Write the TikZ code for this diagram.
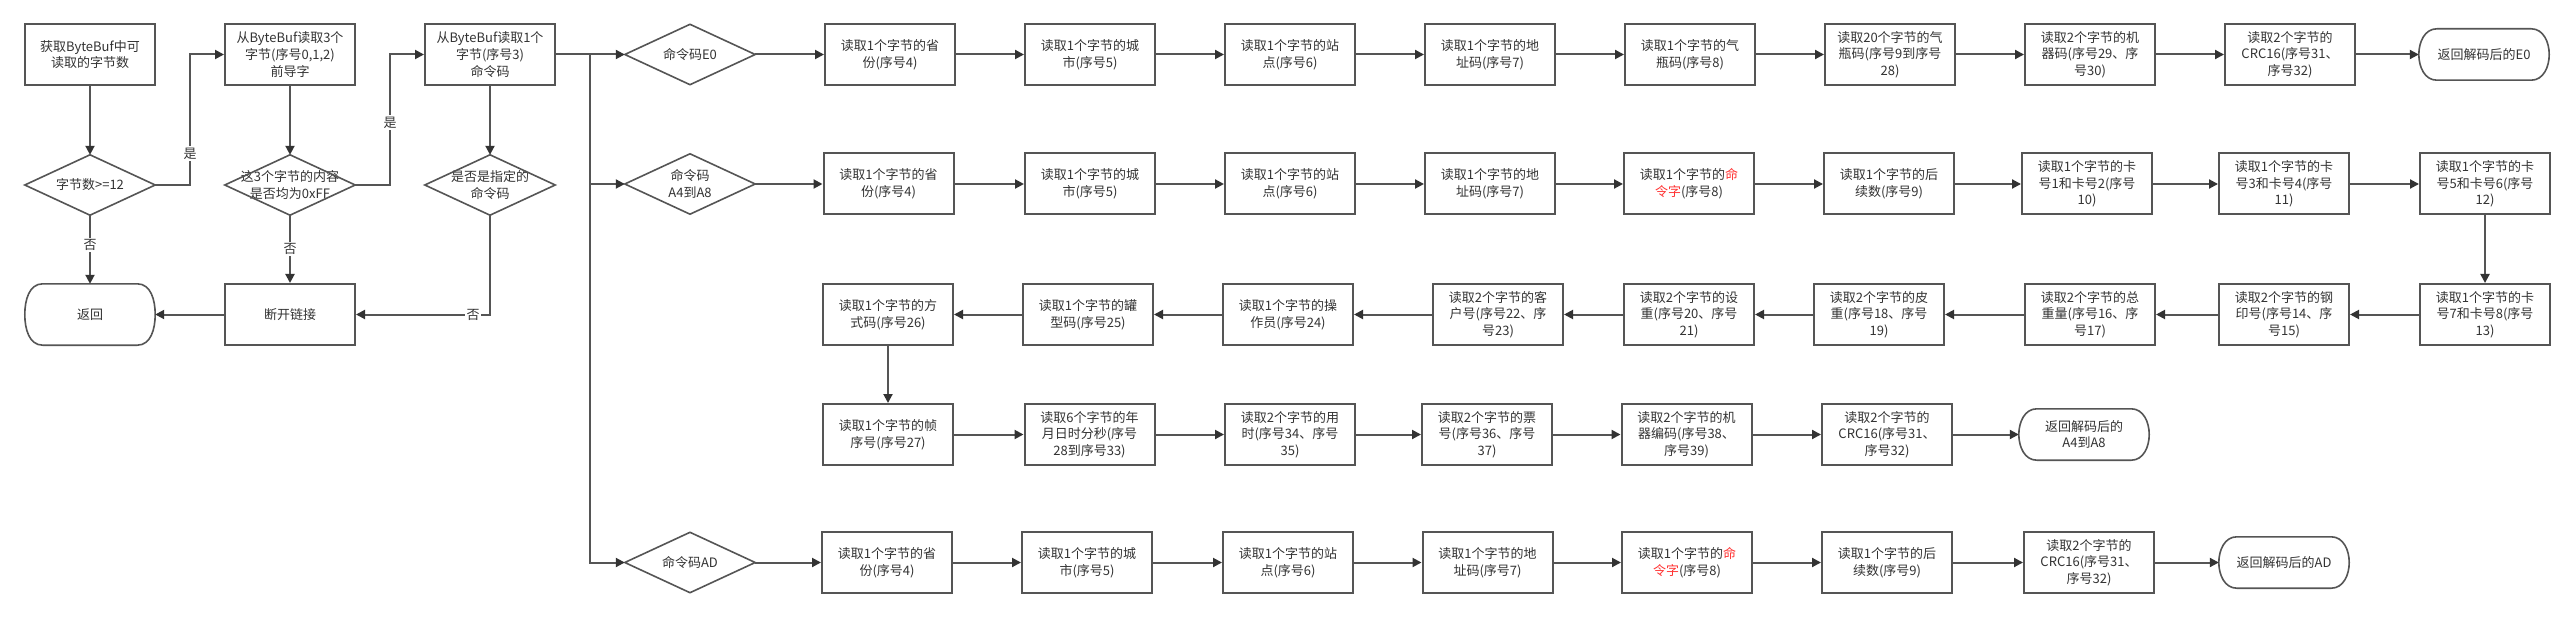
\documentclass[tikz,border=0pt]{standalone}
\usepackage{fontspec}
\setmainfont{Noto Sans CJK SC}
\usetikzlibrary{arrows.meta}
\definecolor{linec}{HTML}{555555}
\definecolor{arrc}{HTML}{333333}
\definecolor{txtc}{HTML}{333333}
\definecolor{redc}{HTML}{FF3333}
\begin{document}
\begin{tikzpicture}[x=1pt,y=-1pt,
  every node/.style={font=\fontsize{13}{16.7}\selectfont, text=txtc, align=center, inner sep=0pt},
  procbox/.style={draw=linec, line width=2pt, minimum width=130pt, minimum height=61pt, fill=white},
  decbox/.style={minimum width=130pt, minimum height=60pt},
  termbox/.style={minimum width=130pt, minimum height=51pt},
  shapeline/.style={draw=linec, line width=1.6pt},
  arr/.style={draw=linec, line width=2pt, -{Triangle[length=9pt,width=9pt,color=arrc]}},
  lbl/.style={fill=white, inner sep=1.5pt}
]
\useasboundingbox (0,0) rectangle (2574,620);
\fill[white] (0,0) rectangle (2574,620);

% left part
\node[procbox] (box1) at (90,54.5) {获取ByteBuf中可\\读取的字节数};
\node[decbox] (d1) at (90,185) {字节数>=12};
\node[termbox, minimum height=61pt] (ret) at (90,314.5) {返回};
\node[procbox] (box2) at (290,54.5) {从ByteBuf读取3个\\字节(序号0,1,2)\\前导字};
\node[decbox] (d2) at (290,185) {这3个字节的内容\\是否均为0xFF};
\node[procbox] (disc) at (290,314.5) {断开链接};
\node[procbox] (box3) at (490,54.5) {从ByteBuf读取1个\\字节(序号3)\\命令码};
\node[decbox] (d3) at (490,185) {是否是指定的\\命令码};

% E0 row
\node[decbox] (dE0) at (690,54.5) {命令码E0};
\node[procbox] (e1) at (890,54.5) {读取1个字节的省\\份(序号4)};
\node[procbox] (e2) at (1090,54.5) {读取1个字节的城\\市(序号5)};
\node[procbox] (e3) at (1290,54.5) {读取1个字节的站\\点(序号6)};
\node[procbox] (e4) at (1490,54.5) {读取1个字节的地\\址码(序号7)};
\node[procbox] (e5) at (1690,54.5) {读取1个字节的气\\瓶码(序号8)};
\node[procbox] (e6) at (1890,54.5) {读取20个字节的气\\瓶码(序号9到序号\\28)};
\node[procbox] (e7) at (2090,54.5) {读取2个字节的机\\器码(序号29、序\\号30)};
\node[procbox] (e8) at (2290,54.5) {读取2个字节的\\CRC16(序号31、\\序号32)};
\node[termbox] (tE0) at (2484,54.5) {返回解码后的E0};

% A4-A8 row
\node[decbox] (dA4) at (690,184) {命令码\\A4到A8};
\node[procbox] (a1) at (888.5,184) {读取1个字节的省\\份(序号4)};
\node[procbox] (a2) at (1090,184) {读取1个字节的城\\市(序号5)};
\node[procbox] (a3) at (1290,184) {读取1个字节的站\\点(序号6)};
\node[procbox] (a4) at (1490,184) {读取1个字节的地\\址码(序号7)};
\node[procbox] (a5) at (1689,184) {读取1个字节的\textcolor{redc}{命}\\\textcolor{redc}{令字}(序号8)};
\node[procbox] (a6) at (1889,184) {读取1个字节的后\\续数(序号9)};
\node[procbox] (a7) at (2087,184) {读取1个字节的卡\\号1和卡号2(序号\\10)};
\node[procbox] (a8) at (2284,184) {读取1个字节的卡\\号3和卡号4(序号\\11)};
\node[procbox] (a9) at (2485,184) {读取1个字节的卡\\号5和卡号6(序号\\12)};

% third row (right to left)
\node[procbox] (b1) at (2485,314.5) {读取1个字节的卡\\号7和卡号8(序号\\13)};
\node[procbox] (b2) at (2284,314.5) {读取2个字节的钢\\印号(序号14、序\\号15)};
\node[procbox] (b3) at (2090,314.5) {读取2个字节的总\\重量(序号16、序\\号17)};
\node[procbox] (b4) at (1879,314.5) {读取2个字节的皮\\重(序号18、序号\\19)};
\node[procbox] (b5) at (1689,314.5) {读取2个字节的设\\重(序号20、序号\\21)};
\node[procbox] (b6) at (1498,314.5) {读取2个字节的客\\户号(序号22、序\\号23)};
\node[procbox] (b7) at (1288,314.5) {读取1个字节的操\\作员(序号24)};
\node[procbox] (b8) at (1088,314.5) {读取1个字节的罐\\型码(序号25)};
\node[procbox] (b9) at (888,314.5) {读取1个字节的方\\式码(序号26)};

% fourth row
\node[procbox] (c1) at (888,434.5) {读取1个字节的帧\\序号(序号27)};
\node[procbox] (c2) at (1089.5,434.5) {读取6个字节的年\\月日时分秒(序号\\28到序号33)};
\node[procbox] (c3) at (1290,434.5) {读取2个字节的用\\时(序号34、序号\\35)};
\node[procbox] (c4) at (1487,434.5) {读取2个字节的票\\号(序号36、序号\\37)};
\node[procbox] (c5) at (1686.5,434.5) {读取2个字节的机\\器编码(序号38、\\序号39)};
\node[procbox] (c6) at (1887,434.5) {读取2个字节的\\CRC16(序号31、\\序号32)};
\node[termbox] (tA4) at (2084,434.5) {返回解码后的\\A4到A8};

% AD row
\node[decbox] (dAD) at (690,562.5) {命令码AD};
\node[procbox] (f1) at (887,562.5) {读取1个字节的省\\份(序号4)};
\node[procbox] (f2) at (1087,562.5) {读取1个字节的城\\市(序号5)};
\node[procbox] (f3) at (1288,562.5) {读取1个字节的站\\点(序号6)};
\node[procbox] (f4) at (1487.5,562.5) {读取1个字节的地\\址码(序号7)};
\node[procbox] (f5) at (1687,562.5) {读取1个字节的\textcolor{redc}{命}\\\textcolor{redc}{令字}(序号8)};
\node[procbox] (f6) at (1887,562.5) {读取1个字节的后\\续数(序号9)};
\node[procbox] (f7) at (2089,562.5) {读取2个字节的\\CRC16(序号31、\\序号32)};
\node[termbox] (tAD) at (2284,562.5) {返回解码后的AD};

% diamond outlines
\foreach \n in {d1,d2,d3,dE0,dA4,dAD}{
  \draw[shapeline] (\n.north) -- (\n.east) -- (\n.south) -- (\n.west) -- cycle;
}
% terminator outlines
\foreach \n in {ret,tE0,tA4,tAD}{
  \draw[shapeline] ([xshift=18pt]\n.north west) -- ([xshift=-18pt]\n.north east)
    to[out=0,in=90] (\n.east) to[out=-90,in=0] ([xshift=-18pt]\n.south east)
    -- ([xshift=18pt]\n.south west) to[out=180,in=-90] (\n.west)
    to[out=90,in=180] cycle;
}

% left connectors
\coordinate (j1) at (190,185);
\coordinate (j2) at (390,185);
\draw[arr] (box1) -- (d1);
\draw[arr] (d1.east) -- (j1) |- (box2.west) node[lbl, pos=0.12] {是};
\draw[arr] (d1.south) -- (ret.north) node[lbl, pos=0.43] {否};
\draw[arr] (box2) -- (d2);
\draw[arr] (d2.east) -- (j2) |- (box3.west) node[lbl, pos=0.24] {是};
\draw[arr] (d2.south) -- (disc.north) node[lbl, pos=0.5] {否};
\draw[arr] (disc.west) -- (ret.east);
\draw[arr] (box3) -- (d3);
\draw[arr] (d3.south) |- (disc.east) node[lbl, pos=0.563] {否};

% trunk
\coordinate (trunk) at (589.5,54.5);
\draw[arr] (box3.east) -- (dE0.west);
\draw[arr] (trunk) |- (dA4.west);
\draw[arr] (trunk) |- (dAD.west);

% E0 chain
\draw[arr] (dE0.east) -- (e1.west);
\foreach \p/\q in {e1/e2,e2/e3,e3/e4,e4/e5,e5/e6,e6/e7,e7/e8,e8/tE0}{
  \draw[arr] (\p.east) -- (\q.west);
}
% A4 chain
\draw[arr] (dA4.east) -- (a1.west);
\foreach \p/\q in {a1/a2,a2/a3,a3/a4,a4/a5,a5/a6,a6/a7,a7/a8,a8/a9}{
  \draw[arr] (\p.east) -- (\q.west);
}
\draw[arr] (a9.south) -- (b1.north);
\foreach \p/\q in {b1/b2,b2/b3,b3/b4,b4/b5,b5/b6,b6/b7,b7/b8,b8/b9}{
  \draw[arr] (\p.west) -- (\q.east);
}
\draw[arr] (b9.south) -- (c1.north);
\foreach \p/\q in {c1/c2,c2/c3,c3/c4,c4/c5,c5/c6,c6/tA4}{
  \draw[arr] (\p.east) -- (\q.west);
}
% AD chain
\draw[arr] (dAD.east) -- (f1.west);
\foreach \p/\q in {f1/f2,f2/f3,f3/f4,f4/f5,f5/f6,f6/f7,f7/tAD}{
  \draw[arr] (\p.east) -- (\q.west);
}
\end{tikzpicture}
\end{document}
